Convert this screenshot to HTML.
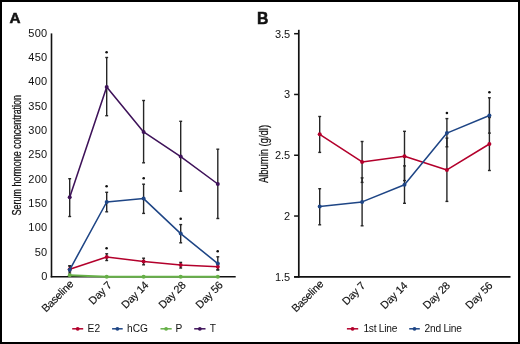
<!DOCTYPE html>
<html><head><meta charset="utf-8"><style>
html,body{margin:0;padding:0;background:#fff;}
.wrap{position:relative;width:520px;height:344px;box-sizing:border-box;border:2px solid #000;overflow:hidden;background:#fff;}
svg{position:absolute;left:-2px;top:-2px;will-change:transform;}
text{font-family:"Liberation Sans", sans-serif;fill:#111;}
</style></head><body><div class="wrap">
<svg width="520" height="344" viewBox="0 0 520 344">
<text x="9.6" y="22.9" font-size="15.3" font-weight="bold" stroke="#111" stroke-width="0.5">A</text>
<text x="257.0" y="23.5" font-size="15.8" font-weight="bold" stroke="#111" stroke-width="0.5">B</text>
<line x1="51.5" y1="33.4" x2="51.5" y2="277.4" stroke="#111" stroke-width="1.6"/>
<line x1="50.7" y1="276.7" x2="235.7" y2="276.7" stroke="#111" stroke-width="1.6"/>
<text x="47.6" y="280.00" font-size="11" text-anchor="end" letter-spacing="0.35">0</text>
<text x="47.6" y="255.65" font-size="11" text-anchor="end" letter-spacing="0.35">50</text>
<text x="47.6" y="231.30" font-size="11" text-anchor="end" letter-spacing="0.35">100</text>
<text x="47.6" y="206.95" font-size="11" text-anchor="end" letter-spacing="0.35">150</text>
<text x="47.6" y="182.60" font-size="11" text-anchor="end" letter-spacing="0.35">200</text>
<text x="47.6" y="158.25" font-size="11" text-anchor="end" letter-spacing="0.35">250</text>
<text x="47.6" y="133.90" font-size="11" text-anchor="end" letter-spacing="0.35">300</text>
<text x="47.6" y="109.55" font-size="11" text-anchor="end" letter-spacing="0.35">350</text>
<text x="47.6" y="85.20" font-size="11" text-anchor="end" letter-spacing="0.35">400</text>
<text x="47.6" y="60.85" font-size="11" text-anchor="end" letter-spacing="0.35">450</text>
<text x="47.6" y="36.50" font-size="11" text-anchor="end" letter-spacing="0.35">500</text>
<text transform="translate(21.0,155.2) rotate(-90) scale(0.69,1)" font-size="13" stroke="#111" stroke-width="0.25" text-anchor="middle">Serum hormone concentration</text>
<text transform="translate(74.1,284.7) rotate(-45)" font-size="10.8" text-anchor="end" letter-spacing="-0.2" stroke="#111" stroke-width="0.15">Baseline</text>
<text transform="translate(112.3,285.9) rotate(-45)" font-size="10.8" text-anchor="end" letter-spacing="-0.2" stroke="#111" stroke-width="0.15">Day 7</text>
<text transform="translate(149.2,285.9) rotate(-45)" font-size="10.8" text-anchor="end" letter-spacing="-0.2" stroke="#111" stroke-width="0.15">Day 14</text>
<text transform="translate(186.3,285.9) rotate(-45)" font-size="10.8" text-anchor="end" letter-spacing="-0.2" stroke="#111" stroke-width="0.15">Day 28</text>
<text transform="translate(223.4,285.9) rotate(-45)" font-size="10.8" text-anchor="end" letter-spacing="-0.2" stroke="#111" stroke-width="0.15">Day 56</text>
<line x1="298.8" y1="29.8" x2="298.8" y2="277.6" stroke="#111" stroke-width="1.7"/>
<line x1="294.1" y1="276.8" x2="510.5" y2="276.8" stroke="#111" stroke-width="1.7"/>
<line x1="294.1" y1="276.80" x2="298.8" y2="276.80" stroke="#111" stroke-width="1.5"/>
<text x="290.2" y="280.80" font-size="11" text-anchor="end">1.5</text>
<line x1="294.1" y1="216.03" x2="298.8" y2="216.03" stroke="#111" stroke-width="1.5"/>
<text x="290.2" y="220.03" font-size="11" text-anchor="end">2</text>
<line x1="294.1" y1="155.25" x2="298.8" y2="155.25" stroke="#111" stroke-width="1.5"/>
<text x="290.2" y="159.25" font-size="11" text-anchor="end">2.5</text>
<line x1="294.1" y1="94.47" x2="298.8" y2="94.47" stroke="#111" stroke-width="1.5"/>
<text x="290.2" y="98.47" font-size="11" text-anchor="end">3</text>
<line x1="294.1" y1="33.70" x2="298.8" y2="33.70" stroke="#111" stroke-width="1.5"/>
<text x="290.2" y="37.70" font-size="11" text-anchor="end">3.5</text>
<text transform="translate(267.9,154) rotate(-90) scale(0.725,1)" font-size="13" stroke="#111" stroke-width="0.25" text-anchor="middle">Albumin (g/dl)</text>
<text transform="translate(324.1,284.7) rotate(-45)" font-size="10.8" text-anchor="end" letter-spacing="-0.2" stroke="#111" stroke-width="0.15">Baseline</text>
<text transform="translate(365.8,286.4) rotate(-45)" font-size="10.8" text-anchor="end" letter-spacing="-0.2" stroke="#111" stroke-width="0.15">Day 7</text>
<text transform="translate(408.2,286.4) rotate(-45)" font-size="10.8" text-anchor="end" letter-spacing="-0.2" stroke="#111" stroke-width="0.15">Day 14</text>
<text transform="translate(450.6,286.4) rotate(-45)" font-size="10.8" text-anchor="end" letter-spacing="-0.2" stroke="#111" stroke-width="0.15">Day 28</text>
<text transform="translate(493.1,286.4) rotate(-45)" font-size="10.8" text-anchor="end" letter-spacing="-0.2" stroke="#111" stroke-width="0.15">Day 56</text>
<line x1="69.7" y1="178.7" x2="69.7" y2="216.5" stroke="#262626" stroke-width="1.4"/>
<line x1="68.25" y1="178.7" x2="71.15" y2="178.7" stroke="#262626" stroke-width="1.4"/>
<line x1="68.25" y1="216.5" x2="71.15" y2="216.5" stroke="#262626" stroke-width="1.4"/>
<line x1="106.7" y1="57.5" x2="106.7" y2="115.7" stroke="#262626" stroke-width="1.4"/>
<line x1="105.25" y1="57.5" x2="108.15" y2="57.5" stroke="#262626" stroke-width="1.4"/>
<line x1="105.25" y1="115.7" x2="108.15" y2="115.7" stroke="#262626" stroke-width="1.4"/>
<line x1="143.6" y1="100.5" x2="143.6" y2="162.8" stroke="#262626" stroke-width="1.4"/>
<line x1="142.15" y1="100.5" x2="145.04999999999998" y2="100.5" stroke="#262626" stroke-width="1.4"/>
<line x1="142.15" y1="162.8" x2="145.04999999999998" y2="162.8" stroke="#262626" stroke-width="1.4"/>
<line x1="180.7" y1="121.3" x2="180.7" y2="191.2" stroke="#262626" stroke-width="1.4"/>
<line x1="179.25" y1="121.3" x2="182.14999999999998" y2="121.3" stroke="#262626" stroke-width="1.4"/>
<line x1="179.25" y1="191.2" x2="182.14999999999998" y2="191.2" stroke="#262626" stroke-width="1.4"/>
<line x1="217.8" y1="149.2" x2="217.8" y2="218.5" stroke="#262626" stroke-width="1.4"/>
<line x1="216.35000000000002" y1="149.2" x2="219.25" y2="149.2" stroke="#262626" stroke-width="1.4"/>
<line x1="216.35000000000002" y1="218.5" x2="219.25" y2="218.5" stroke="#262626" stroke-width="1.4"/>
<line x1="69.7" y1="265.8" x2="69.7" y2="273.0" stroke="#262626" stroke-width="1.4"/>
<line x1="68.25" y1="265.8" x2="71.15" y2="265.8" stroke="#262626" stroke-width="1.4"/>
<line x1="68.25" y1="273.0" x2="71.15" y2="273.0" stroke="#262626" stroke-width="1.4"/>
<line x1="106.7" y1="192.3" x2="106.7" y2="211.8" stroke="#262626" stroke-width="1.4"/>
<line x1="105.25" y1="192.3" x2="108.15" y2="192.3" stroke="#262626" stroke-width="1.4"/>
<line x1="105.25" y1="211.8" x2="108.15" y2="211.8" stroke="#262626" stroke-width="1.4"/>
<line x1="143.6" y1="184.2" x2="143.6" y2="213.4" stroke="#262626" stroke-width="1.4"/>
<line x1="142.15" y1="184.2" x2="145.04999999999998" y2="184.2" stroke="#262626" stroke-width="1.4"/>
<line x1="142.15" y1="213.4" x2="145.04999999999998" y2="213.4" stroke="#262626" stroke-width="1.4"/>
<line x1="180.7" y1="224.6" x2="180.7" y2="242.8" stroke="#262626" stroke-width="1.4"/>
<line x1="179.25" y1="224.6" x2="182.14999999999998" y2="224.6" stroke="#262626" stroke-width="1.4"/>
<line x1="179.25" y1="242.8" x2="182.14999999999998" y2="242.8" stroke="#262626" stroke-width="1.4"/>
<line x1="217.8" y1="256.8" x2="217.8" y2="270.0" stroke="#262626" stroke-width="1.4"/>
<line x1="216.35000000000002" y1="256.8" x2="219.25" y2="256.8" stroke="#262626" stroke-width="1.4"/>
<line x1="216.35000000000002" y1="270.0" x2="219.25" y2="270.0" stroke="#262626" stroke-width="1.4"/>
<line x1="69.7" y1="266.0" x2="69.7" y2="271.0" stroke="#262626" stroke-width="1.4"/>
<line x1="68.25" y1="266.0" x2="71.15" y2="266.0" stroke="#262626" stroke-width="1.4"/>
<line x1="68.25" y1="271.0" x2="71.15" y2="271.0" stroke="#262626" stroke-width="1.4"/>
<line x1="106.7" y1="253.8" x2="106.7" y2="260.5" stroke="#262626" stroke-width="1.4"/>
<line x1="105.25" y1="253.8" x2="108.15" y2="253.8" stroke="#262626" stroke-width="1.4"/>
<line x1="105.25" y1="260.5" x2="108.15" y2="260.5" stroke="#262626" stroke-width="1.4"/>
<line x1="143.6" y1="258.2" x2="143.6" y2="264.8" stroke="#262626" stroke-width="1.4"/>
<line x1="142.15" y1="258.2" x2="145.04999999999998" y2="258.2" stroke="#262626" stroke-width="1.4"/>
<line x1="142.15" y1="264.8" x2="145.04999999999998" y2="264.8" stroke="#262626" stroke-width="1.4"/>
<line x1="180.7" y1="262.4" x2="180.7" y2="268.0" stroke="#262626" stroke-width="1.4"/>
<line x1="179.25" y1="262.4" x2="182.14999999999998" y2="262.4" stroke="#262626" stroke-width="1.4"/>
<line x1="179.25" y1="268.0" x2="182.14999999999998" y2="268.0" stroke="#262626" stroke-width="1.4"/>
<line x1="217.8" y1="264.0" x2="217.8" y2="269.7" stroke="#262626" stroke-width="1.4"/>
<line x1="216.35000000000002" y1="264.0" x2="219.25" y2="264.0" stroke="#262626" stroke-width="1.4"/>
<line x1="216.35000000000002" y1="269.7" x2="219.25" y2="269.7" stroke="#262626" stroke-width="1.4"/>
<polyline points="69.7,269.2 106.7,257.1 143.6,261.5 180.7,265.0 217.8,266.7" fill="none" stroke="#b3002c" stroke-width="1.55" stroke-linejoin="round"/>
<circle cx="69.7" cy="269.2" r="2.0" fill="#b3002c"/>
<circle cx="106.7" cy="257.1" r="2.0" fill="#b3002c"/>
<circle cx="143.6" cy="261.5" r="2.0" fill="#b3002c"/>
<circle cx="180.7" cy="265.0" r="2.0" fill="#b3002c"/>
<circle cx="217.8" cy="266.7" r="2.0" fill="#b3002c"/>
<polyline points="69.7,269.8 106.7,202.0 143.6,198.6 180.7,233.6 217.8,263.6" fill="none" stroke="#1e4585" stroke-width="1.55" stroke-linejoin="round"/>
<circle cx="69.7" cy="269.8" r="2.0" fill="#1e4585"/>
<circle cx="106.7" cy="202.0" r="2.0" fill="#1e4585"/>
<circle cx="143.6" cy="198.6" r="2.0" fill="#1e4585"/>
<circle cx="180.7" cy="233.6" r="2.0" fill="#1e4585"/>
<circle cx="217.8" cy="263.6" r="2.0" fill="#1e4585"/>
<polyline points="69.7,275.3 106.7,276.7 143.6,276.7 180.7,276.7 217.8,276.7" fill="none" stroke="#66b047" stroke-width="2.0" stroke-linejoin="round"/>
<circle cx="69.7" cy="275.3" r="2.0" fill="#66b047"/>
<circle cx="106.7" cy="276.7" r="2.0" fill="#66b047"/>
<circle cx="143.6" cy="276.7" r="2.0" fill="#66b047"/>
<circle cx="180.7" cy="276.7" r="2.0" fill="#66b047"/>
<circle cx="217.8" cy="276.7" r="2.0" fill="#66b047"/>
<polyline points="69.7,197.3 106.7,86.9 143.6,131.9 180.7,156.6 217.8,184.0" fill="none" stroke="#3e1259" stroke-width="1.55" stroke-linejoin="round"/>
<circle cx="69.7" cy="197.3" r="2.0" fill="#3e1259"/>
<circle cx="106.7" cy="86.9" r="2.0" fill="#3e1259"/>
<circle cx="143.6" cy="131.9" r="2.0" fill="#3e1259"/>
<circle cx="180.7" cy="156.6" r="2.0" fill="#3e1259"/>
<circle cx="217.8" cy="184.0" r="2.0" fill="#3e1259"/>
<circle cx="106.6" cy="52.2" r="1.3" fill="#111"/>
<circle cx="106.6" cy="186.2" r="1.3" fill="#111"/>
<circle cx="143.7" cy="178.2" r="1.3" fill="#111"/>
<circle cx="180.7" cy="218.7" r="1.3" fill="#111"/>
<circle cx="106.6" cy="248.3" r="1.3" fill="#111"/>
<circle cx="217.7" cy="251.2" r="1.3" fill="#111"/>
<line x1="319.7" y1="116.5" x2="319.7" y2="152.4" stroke="#262626" stroke-width="1.4"/>
<line x1="318.25" y1="116.5" x2="321.15" y2="116.5" stroke="#262626" stroke-width="1.4"/>
<line x1="318.25" y1="152.4" x2="321.15" y2="152.4" stroke="#262626" stroke-width="1.4"/>
<line x1="319.7" y1="188.7" x2="319.7" y2="224.8" stroke="#262626" stroke-width="1.4"/>
<line x1="318.25" y1="188.7" x2="321.15" y2="188.7" stroke="#262626" stroke-width="1.4"/>
<line x1="318.25" y1="224.8" x2="321.15" y2="224.8" stroke="#262626" stroke-width="1.4"/>
<line x1="362.1" y1="141.5" x2="362.1" y2="182.4" stroke="#262626" stroke-width="1.4"/>
<line x1="360.65000000000003" y1="141.5" x2="363.55" y2="141.5" stroke="#262626" stroke-width="1.4"/>
<line x1="360.65000000000003" y1="182.4" x2="363.55" y2="182.4" stroke="#262626" stroke-width="1.4"/>
<line x1="362.1" y1="177.9" x2="362.1" y2="225.8" stroke="#262626" stroke-width="1.4"/>
<line x1="360.65000000000003" y1="177.9" x2="363.55" y2="177.9" stroke="#262626" stroke-width="1.4"/>
<line x1="360.65000000000003" y1="225.8" x2="363.55" y2="225.8" stroke="#262626" stroke-width="1.4"/>
<line x1="404.5" y1="131.3" x2="404.5" y2="180.6" stroke="#262626" stroke-width="1.4"/>
<line x1="403.05" y1="131.3" x2="405.95" y2="131.3" stroke="#262626" stroke-width="1.4"/>
<line x1="403.05" y1="180.6" x2="405.95" y2="180.6" stroke="#262626" stroke-width="1.4"/>
<line x1="404.5" y1="165.9" x2="404.5" y2="203.3" stroke="#262626" stroke-width="1.4"/>
<line x1="403.05" y1="165.9" x2="405.95" y2="165.9" stroke="#262626" stroke-width="1.4"/>
<line x1="403.05" y1="203.3" x2="405.95" y2="203.3" stroke="#262626" stroke-width="1.4"/>
<line x1="446.9" y1="138.1" x2="446.9" y2="201.4" stroke="#262626" stroke-width="1.4"/>
<line x1="445.45" y1="138.1" x2="448.34999999999997" y2="138.1" stroke="#262626" stroke-width="1.4"/>
<line x1="445.45" y1="201.4" x2="448.34999999999997" y2="201.4" stroke="#262626" stroke-width="1.4"/>
<line x1="446.9" y1="118.6" x2="446.9" y2="146.8" stroke="#262626" stroke-width="1.4"/>
<line x1="445.45" y1="118.6" x2="448.34999999999997" y2="118.6" stroke="#262626" stroke-width="1.4"/>
<line x1="445.45" y1="146.8" x2="448.34999999999997" y2="146.8" stroke="#262626" stroke-width="1.4"/>
<line x1="489.4" y1="117.5" x2="489.4" y2="170.5" stroke="#262626" stroke-width="1.4"/>
<line x1="487.95" y1="117.5" x2="490.84999999999997" y2="117.5" stroke="#262626" stroke-width="1.4"/>
<line x1="487.95" y1="170.5" x2="490.84999999999997" y2="170.5" stroke="#262626" stroke-width="1.4"/>
<line x1="489.4" y1="97.8" x2="489.4" y2="133.1" stroke="#262626" stroke-width="1.4"/>
<line x1="487.95" y1="97.8" x2="490.84999999999997" y2="97.8" stroke="#262626" stroke-width="1.4"/>
<line x1="487.95" y1="133.1" x2="490.84999999999997" y2="133.1" stroke="#262626" stroke-width="1.4"/>
<polyline points="319.7,134.3 362.1,161.9 404.5,156.2 446.9,169.9 489.4,144.0" fill="none" stroke="#b3002c" stroke-width="1.55" stroke-linejoin="round"/>
<circle cx="319.7" cy="134.3" r="2.0" fill="#b3002c"/>
<circle cx="362.1" cy="161.9" r="2.0" fill="#b3002c"/>
<circle cx="404.5" cy="156.2" r="2.0" fill="#b3002c"/>
<circle cx="446.9" cy="169.9" r="2.0" fill="#b3002c"/>
<circle cx="489.4" cy="144.0" r="2.0" fill="#b3002c"/>
<polyline points="319.7,206.6 362.1,201.9 404.5,184.7 446.9,133.1 489.4,115.5" fill="none" stroke="#1e4585" stroke-width="1.55" stroke-linejoin="round"/>
<circle cx="319.7" cy="206.6" r="2.0" fill="#1e4585"/>
<circle cx="362.1" cy="201.9" r="2.0" fill="#1e4585"/>
<circle cx="404.5" cy="184.7" r="2.0" fill="#1e4585"/>
<circle cx="446.9" cy="133.1" r="2.0" fill="#1e4585"/>
<circle cx="489.4" cy="115.5" r="2.0" fill="#1e4585"/>
<circle cx="446.9" cy="113.0" r="1.3" fill="#111"/>
<circle cx="489.4" cy="92.2" r="1.3" fill="#111"/>
<line x1="72.2" y1="328.8" x2="83.2" y2="328.8" stroke="#b3002c" stroke-width="1.5"/>
<circle cx="77.7" cy="328.8" r="1.9" fill="#b3002c"/>
<text x="87.6" y="332.3" font-size="10.2" letter-spacing="0">E2</text>
<line x1="112.1" y1="328.8" x2="122.7" y2="328.8" stroke="#1e4585" stroke-width="1.5"/>
<circle cx="117.4" cy="328.8" r="1.9" fill="#1e4585"/>
<text x="127.1" y="332.3" font-size="10.2" letter-spacing="0">hCG</text>
<line x1="160.5" y1="328.8" x2="171.7" y2="328.8" stroke="#66b047" stroke-width="1.5"/>
<circle cx="166.1" cy="328.8" r="1.9" fill="#66b047"/>
<text x="175.6" y="332.3" font-size="10.2" letter-spacing="0">P</text>
<line x1="194.2" y1="328.8" x2="205.5" y2="328.8" stroke="#3e1259" stroke-width="1.5"/>
<circle cx="199.85" cy="328.8" r="1.9" fill="#3e1259"/>
<text x="209.8" y="332.3" font-size="10.2" letter-spacing="0">T</text>
<line x1="346.9" y1="328.8" x2="358.2" y2="328.8" stroke="#b3002c" stroke-width="1.5"/>
<circle cx="352.54999999999995" cy="328.8" r="1.9" fill="#b3002c"/>
<text x="363.4" y="332.3" font-size="10.2" letter-spacing="-0.25">1st Line</text>
<line x1="409.2" y1="328.8" x2="419.8" y2="328.8" stroke="#1e4585" stroke-width="1.5"/>
<circle cx="414.5" cy="328.8" r="1.9" fill="#1e4585"/>
<text x="424.6" y="332.3" font-size="10.2" letter-spacing="-0.25">2nd Line</text>
</svg></div></body></html>
